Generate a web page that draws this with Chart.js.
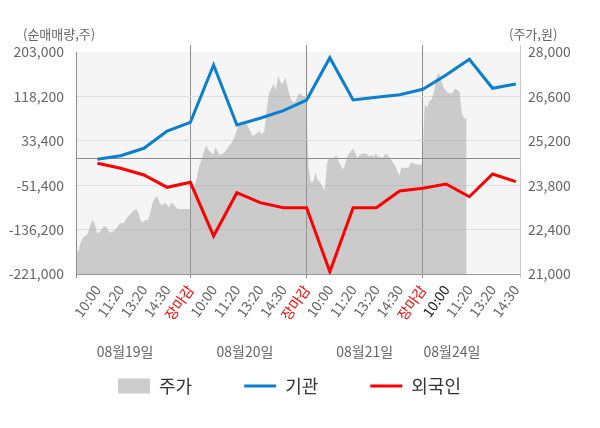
<!DOCTYPE html>
<html>
<head>
<meta charset="utf-8">
<style>
  html, body { margin: 0; padding: 0; background: #fff; }
  #wrap { width: 600px; height: 428px; }
</style>
<script src="https://cdn.jsdelivr.net/npm/chart.js@4.4.0/dist/chart.umd.min.js"></script>
</head>
<body>
<div id="wrap"><canvas id="c"></canvas></div>
<script>
// 시간축 (4일, 장마감 포함)
const timeLabels = [
  '10:00', '11:20', '13:20', '14:30', '장마감',
  '10:00', '11:20', '13:20', '14:30', '장마감',
  '10:00', '11:20', '13:20', '14:30', '장마감',
  '10:00', '11:20', '13:20', '14:30'
];
const dayEnds = [4, 9, 14];
const dayLabels = ['08월19일', '08월20일', '08월21일', '08월24일'];
const dayLabelAt = [1.19, 6.35, 11.5, 15.25];

// 순매매량 (주)
const instNet = [-1900, 4900, 19100, 52100, 68700, 178200, 63600, 76400, 90900, 111300,
  192100, 111300, 116500, 121400, 131800, 159100, 189100, 133700, 141900];
const frgnNet = [-9600, -19100, -31900, -55400, -45900, -148400, -65700, -84800, -94400, -94400,
  -216600, -94400, -94400, -62500, -57300, -49100, -73400, -30000, -44700];

// 주가 (원), 장중 흐름
const price = [
  21800, 21700, 22000, 22150, 22200, 22250, 22500, 22700, 22600, 22300,
  22300, 22400, 22500, 22500, 22350, 22300, 22350, 22400, 22500, 22600,
  22600, 22650, 22800, 22850, 22950, 23000, 23050, 22900, 22650, 22650,
  22700, 22700, 22950, 23250, 23400, 23450, 23250, 23150, 23250, 23200,
  23100, 23250, 23200, 23100, 23050, 23050, 23050, 23050, 23050, 23050,
  23800, 23750, 24050, 24400, 24600, 24850, 25050, 24900, 24850, 24750,
  25000, 24850, 24750, 24800, 24850, 24950, 25050, 25150, 25300, 25500,
  25700, 25800, 25800, 25800, 25650, 25500, 25350, 25400, 25450, 25500,
  25400, 25500, 26150, 26700, 26850, 27000, 26800, 27250, 27050, 27000,
  27200, 26900, 26600, 26450, 26400, 26550, 26700, 26650, 26600, 26600,
  24400, 23900, 23900, 24200, 23950, 23900, 23750, 23650, 24500, 24650,
  24650, 24650, 24750, 24550, 24400, 24300, 24500, 24750, 24850, 24950,
  24850, 24650, 24750, 24800, 24800, 24800, 24700, 24750, 24700, 24800,
  24700, 24700, 24650, 24800, 24750, 24650, 24550, 24450, 24300, 24100,
  24350, 24350, 24350, 24350, 24500, 24500, 24450, 24450, 24450, 24450,
  26350, 26250, 26450, 26500, 26750, 27200, 27350, 27150, 26900, 26800,
  26700, 26700, 26700, 26850, 26800, 26750, 26050, 25900, 25900
];
const priceSlots = 191;

const leftTicks = [-221000, -136200, -51400, 0, 33400, 118200, 203000];
const rightTicks = [21000, 22400, 23800, 25200, 26600, 28000];

const X_MIN = -0.92, X_MAX = 18.18;
const LINE = '#8c8c8c';
const FONT = '"Noto Sans CJK KR", "Noto Sans", sans-serif';

Chart.defaults.font.family = FONT;
Chart.defaults.font.size = 14;
Chart.defaults.color = '#666';

const xTicks = s => { s.ticks = [X_MIN, ...timeLabels.map((_, i) => i), X_MAX].map(v => ({ value: v })); };
const dayLineColor = (edgeLeft) => c => {
  const v = c.tick && c.tick.value;
  if (dayEnds.includes(v)) return LINE;
  if (v === X_MIN) return edgeLeft;
  if (v === X_MAX) return '#cccccc';
  return 'rgba(0,0,0,0)';
};

const decor = {
  id: 'decor',
  beforeDraw(chart) {
    const { ctx, chartArea: a } = chart;
    ctx.save();
    ctx.fillStyle = '#f5f5f5';
    ctx.fillRect(a.left, a.top, a.right - a.left, a.bottom - a.top);
    ctx.restore();
  },
  afterDraw(chart) {
    const { ctx } = chart;
    const x = chart.scales.x;
    ctx.save();
    ctx.fillStyle = '#666';
    ctx.textBaseline = 'middle';
    ctx.font = '13px ' + FONT;
    ctx.textAlign = 'left';
    ctx.fillText('(순매매량,주)', 23, 34);
    ctx.fillText('(주가,원)', 509, 34);
    ctx.font = '14px ' + FONT;
    ctx.textAlign = 'center';
    dayLabels.forEach((t, i) => ctx.fillText(t, x.getPixelForValue(dayLabelAt[i]), 352));
    ctx.restore();
  }
};

new Chart(document.getElementById('c'), {
  type: 'line',
  data: {
    datasets: [
      {
        label: '주가',
        data: price.map((v, i) => ({ x: i, y: v })),
        xAxisID: 'xp',
        yAxisID: 'y1',
        fill: 'start',
        backgroundColor: 'rgba(153,153,153,0.45)',
        borderColor: 'rgba(0,0,0,0)',
        borderWidth: 0,
        pointRadius: 0,
        order: 2
      },
      {
        label: '기관',
        data: instNet.map((v, i) => ({ x: i, y: v })),
        xAxisID: 'x',
        yAxisID: 'y',
        borderColor: '#0a7fcf',
        borderWidth: 3,
        pointRadius: 0,
        fill: false,
        order: 1
      },
      {
        label: '외국인',
        data: frgnNet.map((v, i) => ({ x: i, y: v })),
        xAxisID: 'x',
        yAxisID: 'y',
        borderColor: '#ff0000',
        borderWidth: 3,
        pointRadius: 0,
        fill: false,
        order: 0
      }
    ]
  },
  options: {
    responsive: true,
    maintainAspectRatio: false,
    animation: false,
    layout: { padding: { top: 45, right: 21, bottom: 23, left: 0 } },
    plugins: {
      tooltip: { enabled: false },
      legend: {
        position: 'bottom',
        labels: {
          usePointStyle: true,
          pointStyleWidth: 32,
          boxHeight: 15,
          padding: 52,
          color: '#333',
          font: { size: 18 },
          generateLabels: chart => chart.data.datasets.map((ds, i) => ({
            text: ds.label,
            fillStyle: i === 0 ? '#cccccc' : ds.borderColor,
            strokeStyle: i === 0 ? '#cccccc' : ds.borderColor,
            lineWidth: i === 0 ? 0 : 3,
            pointStyle: i === 0 ? 'rect' : 'line',
            fontColor: '#333',
            hidden: false,
            datasetIndex: i
          }))
        }
      }
    },
    scales: {
      xp: {
        type: 'linear',
        axis: 'x',
        display: false,
        min: 0,
        max: priceSlots
      },
      xt: {
        type: 'linear',
        axis: 'x',
        position: 'top',
        min: X_MIN,
        max: X_MAX,
        afterBuildTicks: xTicks,
        ticks: { display: false },
        border: { display: false },
        grid: { drawOnChartArea: false, tickLength: 7, color: dayLineColor('rgba(0,0,0,0)') }
      },
      x: {
        type: 'linear',
        position: 'bottom',
        min: X_MIN,
        max: X_MAX,
        afterBuildTicks: xTicks,
        afterFit: s => { s.height = 51; },
        ticks: {
          autoSkip: false,
          minRotation: 55,
          maxRotation: 55,
          padding: 4,
          font: { size: 14 },
          color: c => {
            const v = c.tick.value;
            if (dayEnds.includes(v)) return '#ff0000';
            if (v === 15) return '#222';
            return '#666';
          },
          callback: v => (Number.isInteger(v) && timeLabels[v] !== undefined ? timeLabels[v] : '')
        },
        border: { color: '#999' },
        grid: { tickLength: 4, color: dayLineColor(LINE) }
      },
      y: {
        position: 'left',
        min: -221000,
        max: 203000,
        afterBuildTicks: s => { s.ticks = leftTicks.map(v => ({ value: v })); },
        afterFit: s => { s.width = 76; },
        ticks: {
          padding: 12,
          callback: v => (v === 0 ? '' : v.toLocaleString('en-US'))
        },
        border: { color: LINE },
        grid: {
          drawTicks: false,
          color: c => {
            const v = c.tick && c.tick.value;
            if (v === 0) return LINE;
            if (v === 203000) return 'rgba(0,0,0,0)';
            return '#dddddd';
          }
        }
      },
      y1: {
        position: 'right',
        min: 21000,
        max: 28000,
        afterBuildTicks: s => { s.ticks = rightTicks.map(v => ({ value: v })); },
        afterFit: s => { s.width = 59; },
        ticks: {
          padding: 8,
          callback: v => v.toLocaleString('en-US')
        },
        border: { color: '#cccccc' },
        grid: { drawOnChartArea: false, drawTicks: false }
      }
    }
  },
  plugins: [decor]
});
</script>
</body>
</html>
